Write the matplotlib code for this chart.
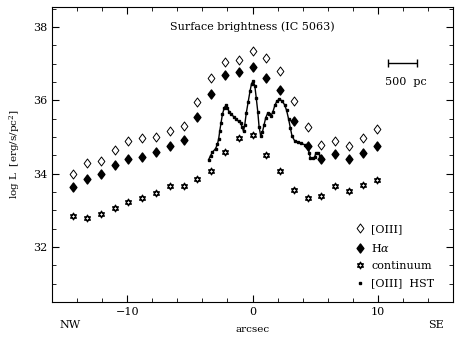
import numpy as np
import matplotlib.pyplot as plt
from matplotlib.path import Path
from matplotlib.lines import Line2D
from matplotlib.ticker import MultipleLocator

# ---- Data: offsets along slit (arcsec) ----
arcsec = [-14.3, -13.2, -12.1, -11.0, -9.9, -8.8, -7.7, -6.6, -5.5, -4.4, -3.3, -2.2,
          -1.1, 0.0, 1.1, 2.2, 3.3, 4.4, 5.5, 6.6, 7.7, 8.8, 9.9]

oiii = [34.00, 34.29, 34.34, 34.63, 34.88, 34.98, 35.00, 35.16, 35.31, 35.95, 36.60, 37.04,
        37.11, 37.35, 37.14, 36.80, 35.98, 35.27, 34.77, 34.90, 34.76, 34.97, 35.22]

halpha = [33.62, 33.84, 33.99, 34.23, 34.40, 34.45, 34.58, 34.76, 34.92, 35.53, 36.18, 36.69,
          36.78, 36.90, 36.62, 36.28, 35.42, 34.76, 34.40, 34.54, 34.40, 34.56, 34.74]

continuum = [32.84, 32.79, 32.90, 33.05, 33.22, 33.33, 33.47, 33.66, 33.66, 33.85, 34.08, 34.60,
             34.96, 35.04, 34.50, 34.08, 33.54, 33.32, 33.39, 33.66, 33.52, 33.68, 33.82]

# [OIII] HST profile
hst_x = [-3.50, -3.35, -3.20, -2.95, -2.80, -2.70, -2.62, -2.52, -2.40, -2.25, -2.12, -2.00,
         -1.85, -1.70, -1.50, -1.30, -1.10, -0.95, -0.82, -0.72, -0.62, -0.50, -0.35, -0.20,
         -0.08, 0.05, 0.18, 0.30, 0.42, 0.52, 0.65, 0.78, 0.92, 1.05, 1.20, 1.35, 1.48, 1.62,
         1.78, 1.95, 2.15, 2.35, 2.55, 2.72, 2.88, 3.02, 3.15, 3.35, 3.60, 3.90, 4.20, 4.42,
         4.52, 4.62, 4.80, 4.95, 5.05, 5.25, 5.42, 5.52]
hst_y = [34.38, 34.49, 34.58, 34.68, 34.80, 34.95, 35.15, 35.37, 35.62, 35.80, 35.86, 35.78,
         35.68, 35.62, 35.55, 35.48, 35.42, 35.38, 35.26, 35.15, 35.33, 35.65, 35.95, 36.25,
         36.45, 36.52, 36.40, 36.05, 35.68, 35.28, 35.03, 35.12, 35.33, 35.52, 35.64, 35.62,
         35.58, 35.68, 35.86, 35.98, 36.03, 35.98, 35.88, 35.72, 35.48, 35.24, 35.02, 34.90,
         34.86, 34.82, 34.78, 34.74, 34.56, 34.42, 34.42, 34.44, 34.56, 34.56, 34.47, 34.40]

# ---- Star-of-David marker for the continuum ----
s = np.sqrt(3) / 2
verts = [(0, 1), (-s, -0.5), (s, -0.5), (0, 1),
         (0, -1), (-s, 0.5), (s, 0.5), (0, -1)]
codes = [Path.MOVETO, Path.LINETO, Path.LINETO, Path.CLOSEPOLY] * 2
hexagram = Path(verts, codes)

# slightly taller-than-wide diamond
diamond = Path([(0, 1), (-0.75, 0), (0, -1), (0.75, 0), (0, 1)],
               [Path.MOVETO, Path.LINETO, Path.LINETO, Path.LINETO, Path.CLOSEPOLY])

plt.rcParams['font.family'] = 'DejaVu Serif'
plt.rcParams['mathtext.fontset'] = 'dejavuserif'

fig = plt.figure(figsize=(4.6, 3.38), dpi=100)
ax = fig.add_axes([0.113, 0.107, 0.872, 0.873])

h1, = ax.plot(arcsec, oiii, linestyle='none', marker=diamond, markersize=6.5,
              markerfacecolor='white', markeredgecolor='black', markeredgewidth=0.7)
h2, = ax.plot(arcsec, halpha, linestyle='none', marker=diamond, markersize=6.5,
              markerfacecolor='black', markeredgecolor='black')
h3, = ax.plot(arcsec, continuum, linestyle='none', marker=hexagram, markersize=5,
              markerfacecolor='none', markeredgecolor='black', markeredgewidth=0.8)
ax.plot(hst_x, hst_y, color='black', linewidth=1.0, marker='s', markersize=1.5)
h4 = Line2D([], [], linestyle='none', marker='s', markersize=2, color='black')

ax.set_xlim(-16, 16)
ax.set_ylim(30.5, 38.55)
ax.xaxis.set_major_locator(MultipleLocator(10))
ax.xaxis.set_minor_locator(MultipleLocator(2))
ax.yaxis.set_major_locator(MultipleLocator(2))
ax.yaxis.set_minor_locator(MultipleLocator(0.5))
ax.tick_params(which='both', direction='in', top=True, right=True, labelsize=8)
ax.tick_params(which='major', length=5)
ax.tick_params(which='minor', length=3)

ax.set_xlabel('arcsec', fontsize=7.5, labelpad=6)
ax.set_ylabel(r'log L  [erg/s/pc$^2$]', fontsize=7.5, labelpad=8)

ax.text(0.5, 0.932, 'Surface brightness (IC 5063)', transform=ax.transAxes,
        ha='center', va='center', fontsize=8)
fig.text(70 / 460, 1 - 325 / 338, 'NW', ha='center', va='center', fontsize=8)
fig.text(436 / 460, 1 - 325 / 338, 'SE', ha='center', va='center', fontsize=8)

# scale bar: 500 pc
ax.errorbar([11.95], [37.01], xerr=[1.15], color='black', linewidth=1.0, capsize=3,
            capthick=1.0)
ax.text(12.25, 36.5, '500  pc', ha='center', va='center', fontsize=8)

ax.legend([h1, h2, h3, h4], ['[OIII]', r'H$\alpha$', 'continuum', '[OIII]  HST'],
          loc='upper left', bbox_to_anchor=(0.735, 0.29), frameon=False, fontsize=8,
          handlelength=1.0, handletextpad=0.5, labelspacing=0.68, borderpad=0.2,
          numpoints=1)

plt.savefig('out.png', dpi=100)
